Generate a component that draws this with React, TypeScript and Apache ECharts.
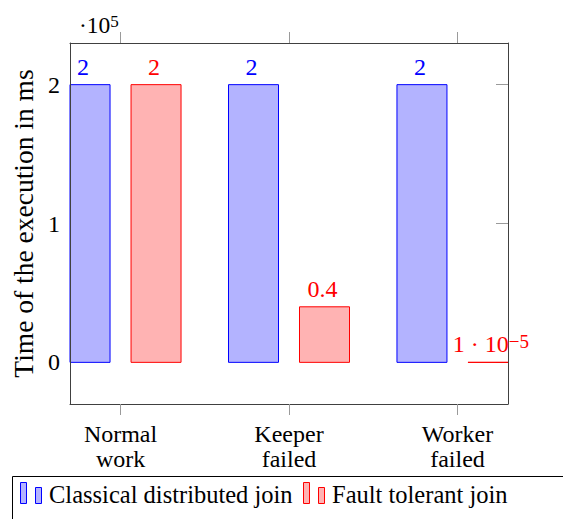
import React, { useEffect, useRef } from 'react';
import * as echarts from 'echarts';

const categories = ['Normal\nwork', 'Keeper\nfailed', 'Worker\nfailed'];
const categoryPositions = [0, 1, 2];
const seriesNames = ['Classical distributed join', 'Fault tolerant join'];
const classicalValues = [2, 2, 2];
const faultTolerantValues = [2, 0.4, 0.00001];
const yTickValues = [0, 1, 2];
const yScaleExponent = 5;
const yAxisTitle = 'Time of the execution in ms';

const FONT = 'Liberation Serif';
const BAR_W = 50;
const AXIS_MIN = -0.3;
const AXIS_MAX = 2.3;

const seriesStyles = [
  { fill: '#b3b3ff', stroke: '#0000ff', offset: -35.5 },
  { fill: '#ffb3b3', stroke: '#ff0000', offset: 35.5 },
];

function formatValue(v: number): string {
  if (v !== 0 && Math.abs(v) < 0.001) {
    const e = Math.floor(Math.log10(Math.abs(v)) + 1e-9);
    const m = v / Math.pow(10, e);
    return `${+m.toFixed(2)} · 10{sup|${e < 0 ? '−' : ''}${Math.abs(e)}}`;
  }
  return String(v);
}

function makeRenderItem(s: { fill: string; stroke: string; offset: number }) {
  return (params: any, api: any) => {
    const idx = api.value(0);
    const v = api.value(1);
    const top = api.coord([idx, v]);
    const base = api.coord([idx, 0]);
    const cs = params.coordSys;
    const cx = top[0] + s.offset;
    const rect = (echarts.graphic as any).clipRectByRect(
      {
        x: cx - BAR_W / 2,
        y: Math.min(top[1], base[1]),
        width: BAR_W,
        height: Math.abs(base[1] - top[1]),
      },
      { x: cs.x, y: cs.y, width: cs.width, height: cs.height }
    );
    const children: any[] = [];
    if (rect) {
      children.push({
        type: 'rect',
        shape: rect,
        style: { fill: s.fill, stroke: s.stroke, lineWidth: 1 },
      });
    }
    children.push({
      type: 'text',
      x: cx - 2,
      y: top[1] - 6,
      z2: 10,
      style: {
        text: formatValue(v),
        fill: s.stroke,
        fontSize: 24,
        fontFamily: FONT,
        align: 'center',
        verticalAlign: 'bottom',
        rich: {
          sup: {
            fontSize: 19,
            fontFamily: FONT,
            fill: s.stroke,
            verticalAlign: 'top',
          },
        },
      },
    });
    return { type: 'group', children };
  };
}

const axisLineStyle = { color: '#404040', width: 1 };
const tickStyle = { color: '#9a9a9a', width: 1 };

export default function App() {
  const ref = useRef<HTMLDivElement>(null);

  useEffect(() => {
    if (!ref.current) return;
    const chart = echarts.init(ref.current, undefined, { renderer: 'svg' });

    const dataSets = [classicalValues, faultTolerantValues];
    const legendX = [20, 303];

    const legendGraphics: any[] = [
      {
        type: 'rect',
        shape: { x: 12.5, y: 476.5, width: 620, height: 80 },
        style: { fill: 'none', stroke: '#000', lineWidth: 1 },
      },
    ];
    seriesNames.forEach((name, i) => {
      const x = legendX[i];
      const st = seriesStyles[i];
      legendGraphics.push(
        {
          type: 'rect',
          shape: { x: x + 0.5, y: 482.5, width: 6, height: 21 },
          style: { fill: st.fill, stroke: st.stroke, lineWidth: 1 },
        },
        {
          type: 'rect',
          shape: { x: x + 15.5, y: 487.5, width: 6, height: 16 },
          style: { fill: st.fill, stroke: st.stroke, lineWidth: 1 },
        },
        {
          type: 'text',
          x: x + 29,
          y: 494,
          style: {
            text: name,
            fill: '#000',
            fontSize: 24.5,
            fontFamily: FONT,
            align: 'left',
            verticalAlign: 'middle',
          },
        }
      );
    });

    chart.setOption({
      animation: false,
      backgroundColor: '#fff',
      textStyle: { fontFamily: FONT },
      grid: { left: 70, top: 43, right: 55, bottom: 115, containLabel: false },
      xAxis: [
        {
          type: 'value',
          position: 'bottom',
          min: AXIS_MIN,
          max: AXIS_MAX,
          z: 3,
          axisLine: { show: true, onZero: false, lineStyle: axisLineStyle },
          axisTick: {
            show: true,
            inside: false,
            length: 11,
            customValues: categoryPositions,
            lineStyle: tickStyle,
          },
          axisLabel: {
            show: true,
            customValues: categoryPositions,
            formatter: (v: number) => categories[Math.round(v)] ?? '',
            fontSize: 24,
            fontFamily: FONT,
            color: '#000',
            lineHeight: 25,
            margin: 17,
          },
          splitLine: { show: false },
        },
        {
          type: 'value',
          position: 'top',
          min: AXIS_MIN,
          max: AXIS_MAX,
          z: 3,
          axisLine: { show: true, onZero: false, lineStyle: axisLineStyle },
          axisTick: {
            show: true,
            inside: false,
            length: 11,
            customValues: categoryPositions,
            lineStyle: tickStyle,
          },
          axisLabel: { show: false },
          splitLine: { show: false },
        },
      ],
      yAxis: [
        {
          type: 'value',
          position: 'left',
          min: AXIS_MIN,
          max: AXIS_MAX,
          z: 3,
          name: yAxisTitle,
          nameLocation: 'middle',
          nameGap: 29,
          nameTextStyle: { fontSize: 27.5, fontFamily: FONT, color: '#000' },
          axisLine: { show: true, onZero: false, lineStyle: axisLineStyle },
          axisTick: { show: false },
          axisLabel: {
            show: true,
            customValues: yTickValues,
            fontSize: 24,
            fontFamily: FONT,
            color: '#000',
            margin: 10,
          },
          splitLine: { show: false },
        },
        {
          type: 'value',
          position: 'right',
          min: AXIS_MIN,
          max: AXIS_MAX,
          z: 1,
          axisLine: { show: true, onZero: false, lineStyle: axisLineStyle },
          axisTick: {
            show: true,
            inside: true,
            length: 12,
            customValues: yTickValues,
            lineStyle: tickStyle,
          },
          axisLabel: { show: false },
          splitLine: { show: false },
        },
      ],
      graphic: [
        {
          type: 'text',
          x: 79,
          y: 37,
          style: {
            text: `·10{sup|${yScaleExponent}}`,
            fill: '#000',
            fontSize: 23.5,
            fontFamily: FONT,
            align: 'left',
            verticalAlign: 'bottom',
            rich: {
              sup: { fontSize: 17, fontFamily: FONT, fill: '#000', verticalAlign: 'top' },
            },
          },
        },
        ...legendGraphics,
      ],
      series: seriesNames.map((name, i) => ({
        name,
        type: 'custom',
        coordinateSystem: 'cartesian2d',
        xAxisIndex: 0,
        yAxisIndex: 0,
        z: 2,
        encode: { x: 0, y: 1 },
        data: dataSets[i].map((v, j) => [categoryPositions[j], v]),
        renderItem: makeRenderItem(seriesStyles[i]),
      })),
    });

    return () => chart.dispose();
  }, []);

  return (
    <div
      ref={ref}
      style={{ position: 'absolute', left: 0, top: 0, width: 563, height: 519 }}
    />
  );
}
